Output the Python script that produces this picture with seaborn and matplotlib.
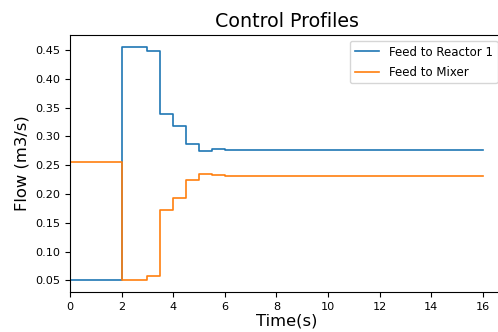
import matplotlib
matplotlib.use("Agg")
import matplotlib.pyplot as plt
import pandas as pd
import seaborn as sns

# Control interval start times (s); final point closes the last interval
time_s = [0, 2, 3, 3.5, 4, 4.5, 5, 5.5, 6, 16]
feed_reactor1 = [0.05, 0.456, 0.448, 0.339, 0.318, 0.2865, 0.2755, 0.2775, 0.2765, 0.2765]
feed_mixer = [0.256, 0.05, 0.0575, 0.172, 0.1925, 0.2245, 0.2345, 0.2328, 0.232, 0.232]

series_names = ["Feed to Reactor 1", "Feed to Mixer"]
colors = ["#1f77b4", "#ff7f0e"]

df = pd.DataFrame({
    "Time": time_s * 2,
    "Flow": feed_reactor1 + feed_mixer,
    "Series": [series_names[0]] * len(time_s) + [series_names[1]] * len(time_s),
})

plt.rcParams["font.family"] = ["DejaVu Sans"]

fig = plt.figure(figsize=(4.98, 3.32), dpi=100)
ax = fig.add_axes([0.1406, 0.1205, 0.8704, 0.7741])

sns.lineplot(data=df, x="Time", y="Flow", hue="Series", palette=colors,
             drawstyle="steps-post", linewidth=1.2, ax=ax, sort=False)

ax.set_xlim(0, 16.8)
ax.set_ylim(0.0297, 0.4763)
ax.set_xticks(range(0, 17, 2))
ax.set_yticks([0.05, 0.10, 0.15, 0.20, 0.25, 0.30, 0.35, 0.40, 0.45])
ax.tick_params(labelsize=8.1, length=3.5, width=0.8)

ax.set_title("Control Profiles", fontsize=13.7)
ax.set_xlabel("Time(s)", fontsize=11.8, labelpad=1)
ax.set_ylabel("Flow (m3/s)", fontsize=11.8)

leg = ax.legend(loc="upper right", fontsize=8.5, title=None,
                handlelength=2.1, labelspacing=0.6)

fig.savefig("out.png", dpi=100)
